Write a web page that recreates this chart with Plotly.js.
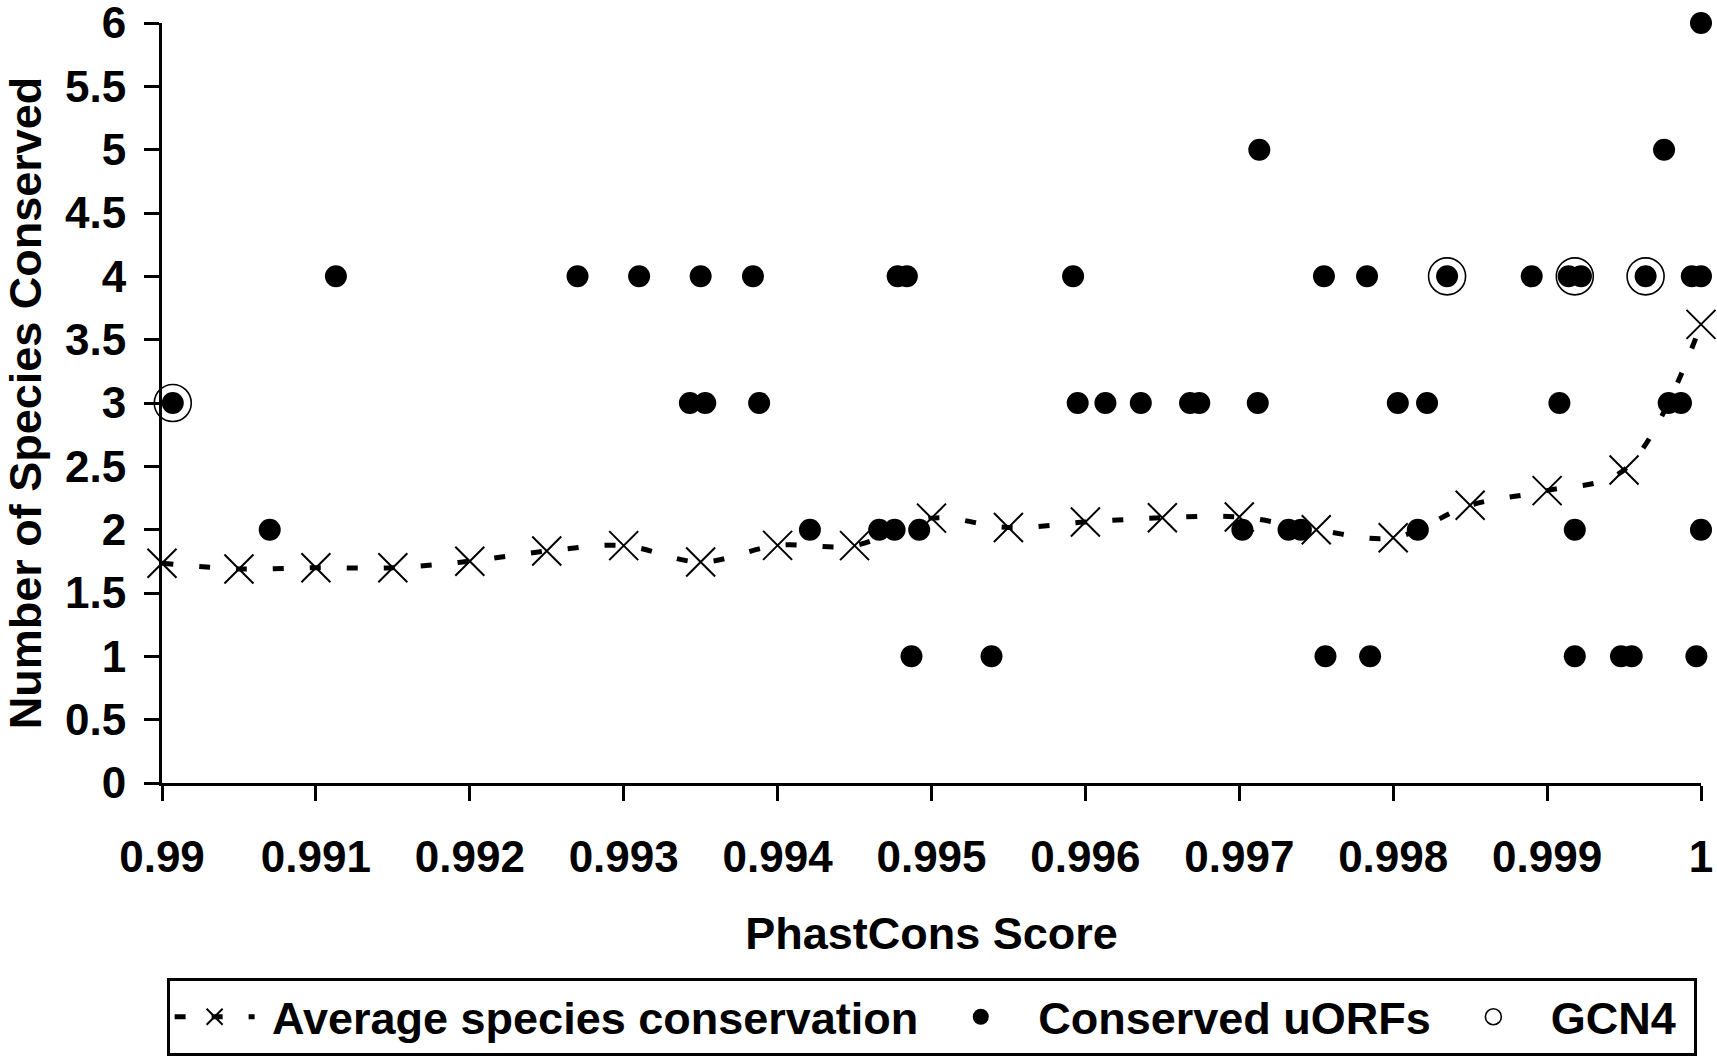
<!DOCTYPE html>
<html>
<head>
<meta charset="utf-8">
<script src="https://cdn.plot.ly/plotly-3.0.1.min.js"></script>
<style>
  html, body { margin: 0; padding: 0; background: #ffffff; }
  #chart { width: 1717px; height: 1056px; }
</style>
</head>
<body>
<div id="chart"></div>
<script>
// Average species conservation, sampled every 0.0005 of PhastCons score
const avgScore = [0.99, 0.9905, 0.991, 0.9915, 0.992, 0.9925, 0.993, 0.9935, 0.994, 0.9945, 0.995,
                  0.9955, 0.996, 0.9965, 0.997, 0.9975, 0.998, 0.9985, 0.999, 0.9995, 1.0];
const avgSpecies = [1.735, 1.69, 1.70, 1.70, 1.751, 1.831, 1.874, 1.745, 1.876, 1.874, 2.091,
                    2.017, 2.06, 2.094, 2.10, 2.00, 1.936, 2.193, 2.308, 2.471, 3.621];

// Conserved uORFs (score, number of species)
const uorfScore = [
    1.0,
    0.99713, 0.99976,
    0.99113, 0.99270, 0.99310, 0.99350, 0.99384, 0.99478, 0.99484, 0.99592, 0.99755,
    0.99783, 0.99835, 0.99890, 0.99914, 0.99922, 0.99964, 0.99994, 1.0,
    0.99007, 0.99343, 0.99353, 0.99388, 0.99595, 0.99613, 0.99636, 0.99668, 0.99674,
    0.99712, 0.99803, 0.99822, 0.99908, 0.99979, 0.99987,
    0.99070, 0.99421, 0.99466, 0.99476, 0.99492, 0.99702, 0.99732, 0.99740, 0.99816,
    0.99918, 1.0,
    0.99487, 0.99539, 0.99756, 0.99785, 0.99918, 0.99948, 0.99955, 0.99997
];
const uorfSpecies = [
    6,
    5, 5,
    4, 4, 4, 4, 4, 4, 4, 4, 4,
    4, 4, 4, 4, 4, 4, 4, 4,
    3, 3, 3, 3, 3, 3, 3, 3, 3,
    3, 3, 3, 3, 3, 3,
    2, 2, 2, 2, 2, 2, 2, 2, 2,
    2, 2,
    1, 1, 1, 1, 1, 1, 1, 1
];

// GCN4 uORFs
const gcn4Score = [0.99007, 0.99835, 0.99918, 0.99964];
const gcn4Species = [3, 4, 4, 4];

const xTickVals = [0.99, 0.991, 0.992, 0.993, 0.994, 0.995, 0.996, 0.997, 0.998, 0.999, 1.0];
const xTickText = ['0.99', '0.991', '0.992', '0.993', '0.994', '0.995', '0.996', '0.997', '0.998', '0.999', '1'];
const yTickVals = [0, 0.5, 1, 1.5, 2, 2.5, 3, 3.5, 4, 4.5, 5, 5.5, 6];
const yTickText = ['0', '0.5', '1', '1.5', '2', '2.5', '3', '3.5', '4', '4.5', '5', '5.5', '6'];

const FONT = 'Arial, "Liberation Sans", Helvetica, sans-serif';
const NB = '\u00a0'; // padding around legend labels

const traces = [
    {
        type: 'scatter',
        mode: 'lines+markers',
        name: NB + 'Average species conservation' + NB,
        x: avgScore,
        y: avgSpecies,
        line: { color: '#000000', width: 5, dash: '11px,26px', shape: 'spline', smoothing: 1 },
        marker: { symbol: 'x-thin-open', size: 29, color: '#000000', line: { color: '#000000', width: 2 } },
        cliponaxis: false
    },
    {
        type: 'scatter',
        mode: 'markers',
        name: NB + 'Conserved uORFs' + NB,
        x: uorfScore,
        y: uorfSpecies,
        marker: { symbol: 'circle', size: 22, color: '#000000', line: { width: 0 } },
        cliponaxis: false
    },
    {
        type: 'scatter',
        mode: 'markers',
        name: NB + 'GCN4' + NB,
        x: gcn4Score,
        y: gcn4Species,
        marker: { symbol: 'circle-open', size: 37, color: '#000000', line: { color: '#000000', width: 1.6 } },
        cliponaxis: false
    }
];

const axisCommon = {
    showline: true,
    linecolor: '#000000',
    linewidth: 3,
    ticks: 'outside',
    ticklen: 15,
    tickwidth: 3,
    tickcolor: '#000000',
    showgrid: false,
    zeroline: false,
    tickmode: 'array',
    ticklabeloverflow: 'allow',
    tickfont: { family: FONT, size: 44, color: '#000000', weight: 'bold' }
};

const titleFont = { family: FONT, size: 45, color: '#000000', weight: 'bold' };

const layout = {
    width: 1717,
    height: 1056,
    margin: { l: 162, r: 16, t: 23, b: 273 },
    paper_bgcolor: '#ffffff',
    plot_bgcolor: '#ffffff',
    font: { family: FONT, size: 45, color: '#000000', weight: 'bold' },
    showlegend: true,
    xaxis: {
        ...axisCommon,
        range: [0.99, 1.0],
        tickvals: xTickVals,
        ticktext: xTickText,
        ticklabelstandoff: 18,
        title: { text: 'PhastCons Score', font: titleFont, standoff: 38 }
    },
    yaxis: {
        ...axisCommon,
        range: [0, 6],
        tickvals: yTickVals,
        ticktext: yTickText,
        ticklabelstandoff: 9,
        title: { text: 'Number of Species Conserved', font: titleFont, standoff: 32 }
    },
    legend: {
        orientation: 'h',
        x: 0.003,
        xanchor: 'left',
        yref: 'container',
        y: 0,
        yanchor: 'bottom',
        bgcolor: '#ffffff',
        bordercolor: '#000000',
        borderwidth: 3,
        itemwidth: 80,
        font: { family: FONT, size: 45, color: '#000000', weight: 'bold' }
    }
};

Plotly.newPlot('chart', traces, layout, { displayModeBar: false, responsive: false });
</script>
</body>
</html>
